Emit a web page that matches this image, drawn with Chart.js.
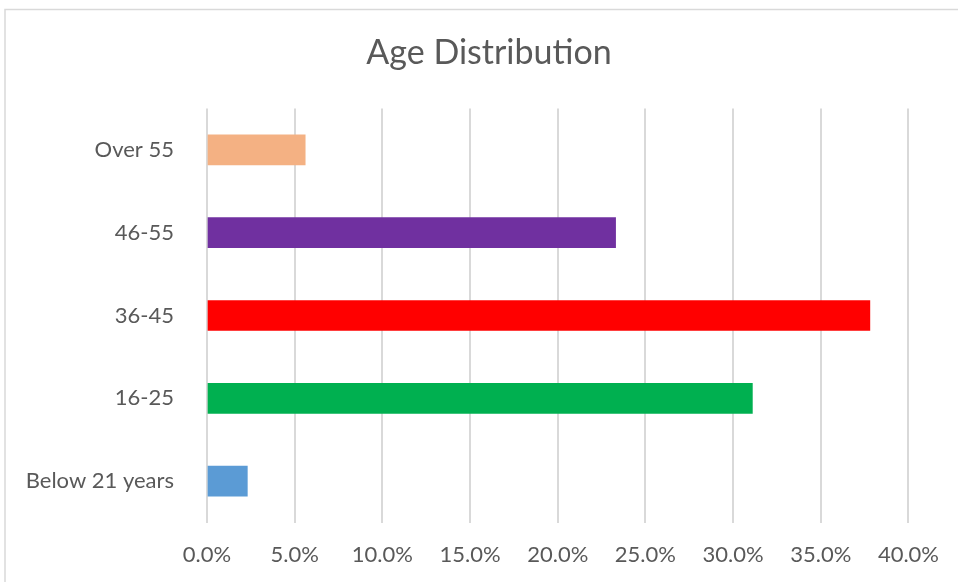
<!DOCTYPE html>
<html>
<head>
<meta charset="utf-8">
<script src="https://cdn.jsdelivr.net/npm/chart.js@4/dist/chart.umd.min.js"></script>
<style>
  html, body { margin: 0; padding: 0; background: #ffffff; }
  #wrap { width: 958px; height: 582px; position: relative; }
</style>
</head>
<body>
<div id="wrap"><canvas id="c"></canvas></div>
<script>
// Age groups, top to bottom
const categories = ['Over 55', '46-55', '36-45', '16-25', 'Below 21 years'];
// Share of respondents in each group (percent)
const shares = [5.6, 23.3, 37.8, 31.1, 2.3];
const barColors = ['#F4B183', '#7030A0', '#FF0000', '#00B050', '#5B9BD5'];
const xTicks = [0, 5, 10, 15, 20, 25, 30, 35, 40];
const chartTitle = 'Age Distribution';

const FONT = 'Lato, "Open Sans", sans-serif';
const TEXT = '#595959';
const GRID = '#d9d9d9';

// Light frame around the chart plus a title centred on the whole frame
const framePlugin = {
  id: 'frame',
  beforeDraw(chart) {
    const ctx = chart.ctx;
    ctx.save();
    ctx.strokeStyle = GRID;
    ctx.lineWidth = 1.5;
    ctx.beginPath();
    ctx.moveTo(5, chart.height + 2);
    ctx.lineTo(5, 9.5);
    ctx.lineTo(chart.width + 2, 9.5);
    ctx.stroke();
    ctx.fillStyle = TEXT;
    ctx.font = '34px ' + FONT;
    ctx.textAlign = 'center';
    ctx.textBaseline = 'middle';
    ctx.fillText(chartTitle, 489, 53);
    ctx.restore();
  }
};

new Chart(document.getElementById('c'), {
  type: 'bar',
  data: {
    labels: categories,
    datasets: [{
      data: shares,
      backgroundColor: barColors,
      borderWidth: 0,
      barThickness: 30
    }]
  },
  options: {
    indexAxis: 'y',
    responsive: true,
    maintainAspectRatio: false,
    animation: false,
    layout: { padding: { left: 0, right: 48, top: 108.5, bottom: 0 } },
    plugins: {
      legend: { display: false },
      tooltip: { enabled: false },
      title: { display: false }
    },
    scales: {
      x: {
        min: 0,
        max: 40,
        afterBuildTicks(scale) { scale.ticks = xTicks.map(v => ({ value: v })); },
        grid: { color: GRID, lineWidth: 2, drawTicks: false },
        border: { display: false },
        ticks: {
          color: TEXT,
          font: { family: FONT, size: 22 },
          padding: 19,
          callback: v => v.toFixed(1) + '%'
        },
        afterFit(scale) { scale.height = 59.5; }
      },
      y: {
        grid: { display: false, drawTicks: false },
        border: { display: false },
        ticks: {
          color: TEXT,
          font: { family: FONT, size: 22 },
          padding: 33
        },
        afterFit(scale) { scale.width = 207; }
      }
    }
  },
  plugins: [framePlugin]
});
</script>
</body>
</html>
